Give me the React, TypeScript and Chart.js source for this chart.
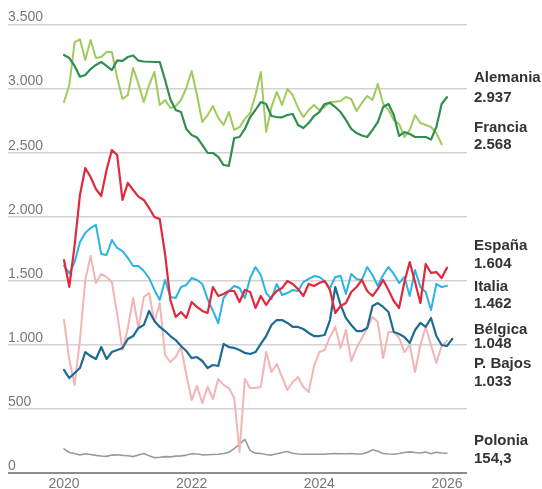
import { useEffect, useRef } from 'react';
import { Chart, registerables } from 'chart.js';

Chart.register(...registerables);

const START_YEAR = 2020;
const Y_TICKS = [0, 500, 1000, 1500, 2000, 2500, 3000, 3500];
const X_TICKS = [2020, 2022, 2024, 2026];

const SERIES_NAMES = ['Alemania', 'Francia', 'España', 'Italia', 'Bélgica', 'P. Bajos', 'Polonia'];
const LAST_LABELS = ['2.937', '2.568', '1.604', '1.462', '1.048', '1.033', '154,3'];

const ALEMANIA = [3266, 3242, 3180, 3096, 3109, 3156, 3188, 3211, 3180, 3148, 3223, 3219, 3250, 3262, 3221, 3215, 3213, 3211, 3211, 3070, 2920, 2836, 2820, 2687, 2641, 2621, 2563, 2500, 2500, 2469, 2406, 2400, 2617, 2625, 2688, 2781, 2836, 2898, 2883, 2789, 2781, 2779, 2797, 2805, 2719, 2695, 2734, 2789, 2820, 2883, 2891, 2859, 2820, 2758, 2688, 2656, 2637, 2625, 2680, 2742, 2859, 2883, 2797, 2633, 2664, 2648, 2625, 2625, 2625, 2605, 2703, 2883, 2937];
const FRANCIA = [2898, 3031, 3367, 3388, 3227, 3383, 3242, 3250, 3289, 3289, 3086, 2922, 2953, 3164, 3039, 2898, 3031, 3133, 2875, 2914, 2852, 2867, 2914, 3008, 3141, 2953, 2742, 2797, 2867, 2773, 2719, 2820, 2680, 2703, 2766, 2813, 2953, 3133, 2664, 2859, 2977, 2875, 3000, 2953, 2852, 2781, 2836, 2875, 2836, 2859, 2898, 2900, 2906, 2938, 2922, 2828, 2891, 2945, 2914, 3039, 2883, 2836, 2758, 2727, 2625, 2680, 2797, 2734, 2719, 2703, 2656, 2568];
const ESPANA = [1664, 1455, 1781, 2172, 2383, 2313, 2219, 2164, 2367, 2523, 2484, 2133, 2266, 2211, 2159, 2133, 2070, 2000, 1984, 1711, 1352, 1219, 1258, 1211, 1336, 1297, 1266, 1250, 1453, 1383, 1398, 1422, 1422, 1336, 1430, 1414, 1289, 1383, 1313, 1375, 1422, 1445, 1500, 1477, 1438, 1383, 1477, 1461, 1484, 1500, 1430, 1250, 1305, 1328, 1414, 1453, 1508, 1422, 1383, 1438, 1508, 1430, 1344, 1289, 1492, 1648, 1492, 1328, 1633, 1563, 1570, 1523, 1604];
const ITALIA = [1620, 1560, 1648, 1805, 1875, 1914, 1938, 1711, 1703, 1820, 1758, 1734, 1680, 1617, 1617, 1578, 1523, 1430, 1352, 1508, 1375, 1367, 1453, 1469, 1523, 1508, 1477, 1359, 1266, 1172, 1367, 1422, 1461, 1445, 1367, 1523, 1609, 1547, 1406, 1359, 1477, 1391, 1406, 1430, 1422, 1492, 1516, 1539, 1531, 1500, 1445, 1531, 1539, 1398, 1555, 1516, 1508, 1609, 1547, 1461, 1547, 1609, 1555, 1484, 1531, 1383, 1586, 1453, 1414, 1273, 1477, 1453, 1462];
const BELGICA = [805, 742, 781, 820, 945, 914, 891, 984, 891, 945, 961, 977, 1047, 1070, 1133, 1156, 1266, 1188, 1141, 1109, 1070, 1039, 992, 953, 898, 906, 875, 820, 844, 836, 1008, 984, 977, 961, 938, 930, 945, 1008, 1070, 1156, 1195, 1195, 1172, 1141, 1141, 1125, 1094, 1070, 1070, 1078, 1195, 1453, 1313, 1211, 1156, 1109, 1109, 1133, 1305, 1328, 1297, 1258, 1102, 1086, 1063, 1016, 1117, 1172, 1141, 1211, 1070, 1000, 992, 1048];
const PAISES_BAJOS = [1195, 883, 688, 1039, 1508, 1695, 1484, 1555, 1531, 1492, 1242, 961, 1133, 1367, 1133, 1375, 1406, 1180, 1328, 922, 867, 906, 984, 766, 570, 680, 547, 672, 578, 734, 688, 664, 586, 164, 734, 664, 664, 672, 945, 789, 852, 750, 648, 711, 750, 672, 633, 836, 945, 961, 1063, 1141, 977, 1117, 875, 977, 1055, 1133, 1219, 1180, 898, 1102, 1102, 1055, 945, 1000, 789, 1000, 1141, 1000, 859, 992, 1033];
const POLONIA = [188, 160, 152, 140, 150, 145, 138, 133, 130, 140, 142, 138, 135, 128, 140, 152, 135, 120, 123, 128, 126, 132, 134, 140, 150, 148, 142, 143, 145, 146, 152, 162, 190, 225, 262, 175, 155, 152, 145, 140, 150, 160, 168, 155, 148, 146, 147, 147, 146, 147, 150, 152, 150, 151, 152, 149, 148, 160, 182, 170, 152, 148, 147, 152, 160, 165, 160, 156, 164, 150, 162, 156, 154.3];

const SERIES_VALUES = [ALEMANIA, FRANCIA, ESPANA, ITALIA, BELGICA, PAISES_BAJOS, POLONIA];
const SERIES_COLORS = ['#2f8f50', '#9fcb5c', '#e0293c', '#2bb3e3', '#1f6b94', '#f2b4b7', '#9a9a9a'];
const SERIES_WIDTHS = [2.2, 2, 2.2, 2, 2.2, 2, 1.6];
// drawing order: lower = on top
const SERIES_ORDER = [0, 1, 2, 4, 3, 5, 6];

// right-hand labels: baselines (px) of name and value
const LABEL_BASELINES: [number, number][] = [
  [81.5, 101.5],
  [131.5, 148.5],
  [250, 267.5],
  [290.5, 308],
  [333.5, 347.5],
  [367.5, 386],
  [445, 463],
];

const fmtThousands = (v: number) =>
  v >= 1000 ? `${Math.floor(v / 1000)}.${String(v % 1000).padStart(3, '0')}` : String(v);

const toPoints = (vals: number[]) => vals.map((v, i) => ({ x: START_YEAR + i / 12, y: v }));

const textPlugin = {
  id: 'textPlugin',
  afterDraw(chart: any) {
    const { ctx, scales, chartArea } = chart;
    const y = scales.y;
    const x = scales.x;
    ctx.save();
    ctx.font = '14px "Liberation Sans", Arial, sans-serif';
    ctx.fillStyle = '#777';
    ctx.textBaseline = 'alphabetic';
    ctx.textAlign = 'left';
    Y_TICKS.forEach((v) => {
      ctx.fillText(fmtThousands(v), chartArea.left, y.getPixelForValue(v) - 3.5);
    });
    ctx.textAlign = 'center';
    X_TICKS.forEach((v) => {
      ctx.fillText(String(v), x.getPixelForValue(v), 488);
    });
    ctx.textAlign = 'left';
    ctx.fillStyle = '#333';
    ctx.font = 'bold 15px "Liberation Sans", Arial, sans-serif';
    SERIES_NAMES.forEach((name, i) => {
      const [b1, b2] = LABEL_BASELINES[i];
      ctx.fillText(name, chartArea.right + 7, b1);
      ctx.fillText(LAST_LABELS[i], chartArea.right + 7, b2);
    });
    ctx.restore();
  },
};

export default function App() {
  const ref = useRef<HTMLCanvasElement | null>(null);
  useEffect(() => {
    if (!ref.current) return;
    const chart = new Chart(ref.current, {
      type: 'line',
      data: {
        datasets: SERIES_NAMES.map((name, i) => ({
          label: name,
          data: toPoints(SERIES_VALUES[i]),
          borderColor: SERIES_COLORS[i],
          backgroundColor: SERIES_COLORS[i],
          borderWidth: SERIES_WIDTHS[i],
          order: SERIES_ORDER[i],
          fill: false,
        })),
      },
      options: {
        responsive: false,
        animation: false,
        devicePixelRatio: 1,
        layout: { padding: { left: 8, right: 75, top: 0, bottom: 13 } },
        plugins: { legend: { display: false }, tooltip: { enabled: false } },
        elements: {
          point: { radius: 0 },
          line: { tension: 0, borderJoinStyle: 'round', borderCapStyle: 'round' },
        },
        scales: {
          x: { type: 'linear', display: false, min: 2019.1227, max: 2026.3137 },
          y: {
            type: 'linear',
            min: -23.4,
            max: 3695.3,
            afterFit: (s: any) => {
              s.width = 0;
            },
            afterBuildTicks: (s: any) => {
              s.ticks = Y_TICKS.map((v) => ({ value: v }));
            },
            ticks: { display: false },
            border: { display: false },
            grid: {
              drawTicks: false,
              color: (c: any) => (c.tick && c.tick.value === 0 ? '#8c8c8c' : '#d3d3d3'),
              lineWidth: (c: any) => (c.tick && c.tick.value === 0 ? 2 : 1.5),
            },
          },
        },
      } as any,
      plugins: [textPlugin],
    });
    return () => chart.destroy();
  }, []);
  return (
    <div style={{ position: 'absolute', left: 0, top: 0, width: 542, height: 489 }}>
      <canvas ref={ref} width={542} height={489} style={{ display: 'block' }} />
    </div>
  );
}
